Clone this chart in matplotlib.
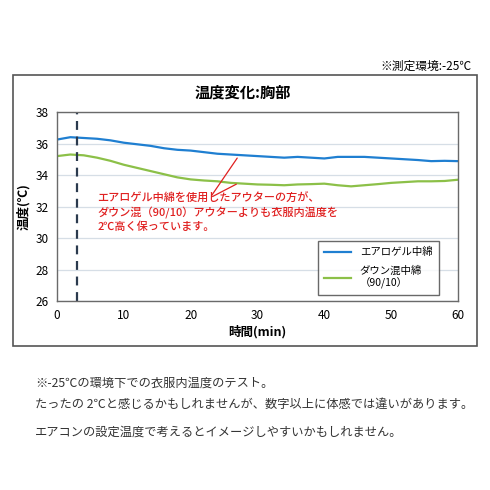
import matplotlib.pyplot as plt
from matplotlib.patches import Rectangle

plt.rcParams['font.family'] = ['Noto Sans CJK JP', 'DejaVu Sans']

# Data
t = list(range(0, 61, 2))
aerogel = [36.25, 36.4, 36.35, 36.3, 36.2, 36.05, 35.95, 35.85, 35.7, 35.6,
           35.55, 35.45, 35.35, 35.3, 35.25, 35.2, 35.15, 35.1, 35.15, 35.1,
           35.05, 35.15, 35.15, 35.15, 35.1, 35.05, 35.0, 34.95, 34.88, 34.9, 34.88]
down = [35.2, 35.3, 35.25, 35.1, 34.9, 34.65, 34.45, 34.25, 34.05, 33.85,
        33.72, 33.65, 33.6, 33.5, 33.45, 33.4, 33.38, 33.35, 33.4, 33.42,
        33.45, 33.35, 33.28, 33.35, 33.42, 33.5, 33.55, 33.6, 33.6, 33.62, 33.7]
labels = ['エアロゲル中綿', 'ダウン混中綿\n（90/10）']
marker_t = 3

fig = plt.figure(figsize=(4.9, 4.9), dpi=100)
W = 490.0

# outer frame
fig.patches.append(Rectangle((13/W, 1-346/W), 464/W, 271/W, transform=fig.transFigure,
                             fill=False, edgecolor='#555555', linewidth=1.2))
fig.text(471/W, 1-66/W, '※測定環境:-25℃', ha='right', va='center', fontsize=8.5)
fig.text(243/W, 1-93/W, '温度変化:胸部', ha='center', va='center', fontsize=11, fontweight='bold')

ax = fig.add_axes([57/W, 1-301/W, 401/W, 189/W])
ax.plot(t, aerogel, color='#1f7fd1', linewidth=1.6, label=labels[0])
ax.plot(t, down, color='#8cc048', linewidth=1.6, label=labels[1])
ax.axvline(marker_t, color='#2b3a4e', linestyle=(0, (4, 3)), linewidth=1.6)

ax.set_xlim(0, 60)
ax.set_ylim(26, 38)
ax.set_xticks(range(0, 61, 10))
ax.set_yticks(range(26, 39, 2))
ax.tick_params(length=0, labelsize=8.5, pad=6)
ax.grid(axis='y', color='#d6dee6', linewidth=0.9)
for s in ax.spines.values():
    s.set_color('#6a6a6a')
    s.set_linewidth(1.0)
ax.set_xlabel('時間(min)', fontsize=9, fontweight='bold', labelpad=2)
ax.set_ylabel('温度(℃)', fontsize=9, fontweight='bold', labelpad=4)

# annotation
ax.text(6.0, 31.65, 'エアロゲル中綿を使用したアウターの方が、\nダウン混（90/10）アウターよりも衣服内温度を\n2℃高く保っています。',
        color='#e02020', fontsize=8, fontweight='medium', va='center', ha='left', linespacing=1.3)
ax.annotate('', xy=(27.2, 35.22), xytext=(22.9, 32.55),
            arrowprops=dict(arrowstyle='-', color='#e02020', linewidth=0.9))
ax.annotate('', xy=(27.2, 33.5), xytext=(22.9, 32.55),
            arrowprops=dict(arrowstyle='-', color='#e02020', linewidth=0.9))

leg = ax.legend(loc='upper left', bbox_to_anchor=(318/W, 1-241/W), bbox_transform=fig.transFigure,
                fontsize=7.5, frameon=True, fancybox=False, handlelength=2.6, labelspacing=0.8,
                borderpad=0.6, handletextpad=0.8, borderaxespad=0)
leg.get_frame().set_edgecolor('#444444')
leg.get_frame().set_linewidth(1.0)

# notes below the chart
note_fs = 8.8
fig.text(35/W, 1-383/W, '※-25℃の環境下での衣服内温度のテスト。', fontsize=note_fs, va='center', color='#333333')
fig.text(35/W, 1-404/W, 'たったの 2℃と感じるかもしれませんが、数字以上に体感では違いがあります。',
         fontsize=note_fs, va='center', color='#333333')
fig.text(35/W, 1-432/W, 'エアコンの設定温度で考えるとイメージしやすいかもしれません。', fontsize=note_fs,
         va='center', color='#333333')

fig.savefig('out.png', dpi=100)
